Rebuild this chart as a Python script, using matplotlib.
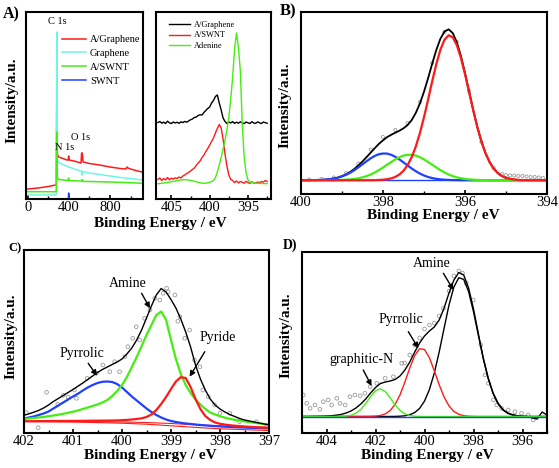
import numpy as np
import matplotlib
matplotlib.use('Agg')
import matplotlib.pyplot as plt
from matplotlib.ticker import MultipleLocator

plt.rcParams['font.family'] = ['Liberation Serif', 'DejaVu Serif']

# ---- A) survey spectra ----
A_red_x = [0, 100, 200, 270, 278, 282, 288, 300, 330, 380, 392, 398, 404, 450, 518, 524, 530, 538,
           600, 700, 800, 900, 955, 965, 975, 1000, 1050, 1110]
A_red_y = [10, 11, 12.5, 14, 14.5, 94, 45, 42, 41, 39, 39, 43, 39, 38, 36, 46, 46, 37,
           35.5, 34, 32, 30.5, 30, 32, 31, 30, 28.5, 27]
A_cyan_x = [0, 200, 270, 278, 282, 288, 300, 330, 400, 500, 522, 528, 534, 600, 700, 800, 900, 1000, 1110]
A_cyan_y = [4, 4, 4, 4.5, 167, 40, 37, 35, 32, 28.5, 28, 24, 27.5, 26, 24.5, 23, 21.5, 20.5, 19]
A_green_x = [0, 270, 278, 282, 288, 300, 350, 392, 398, 404, 500, 524, 530, 538, 600, 800, 1000, 1110]
A_green_y = [7.3, 7.3, 7.5, 67, 22, 19.5, 19, 18.5, 21, 18.5, 18, 18, 19.5, 17.5, 17.5, 17, 16.3, 15.7]
A_blue_x = [0, 392, 398, 404, 1110]
A_blue_y = [-5, -5, 6, -5, -5]

# ---- A) N 1s region ----
A2_energy = np.arange(406.75, 392.45, -0.25)
A2_graphene = [76.5, 77.5, 75.8, 76.9, 75.5, 77.8, 76.2, 75.4, 77.0, 76.0,
               76.8, 75.6, 77.2, 76.4, 77.6, 76.8, 78.0, 79.2, 80.0, 81.5,
               82.0, 83.5, 84.2, 84.0, 86.5, 88.5, 90.5, 92.0, 96.0, 98.5,
               102.5, 104.0, 96.0, 89.0, 81.0, 77.5, 75.5, 77.0, 76.0, 77.4,
               75.6, 76.8, 75.8, 77.2, 76.0, 75.4, 77.0, 76.2, 75.5, 77.3,
               76.0, 75.7, 77.1, 76.2, 75.4, 77.0, 76.3, 75.8]
A2_swnt = [19.5, 21.0, 18.5, 20.5, 19.0, 21.5, 19.2, 20.8, 19.8, 21.2,
           20.5, 22.0, 21.0, 23.0, 24.0, 25.5, 26.5, 28.0, 29.5, 31.0,
           33.5, 36.0, 38.0, 41.5, 44.0, 47.5, 50.5, 54.0, 57.5, 61.0,
           66.0, 70.5, 74.5, 71.0, 60.0, 45.0, 33.0, 24.0, 19.5, 18.5,
           16.5, 18.0, 16.0, 17.5, 16.8, 15.8, 17.6, 16.4, 15.6, 17.2,
           16.0, 15.8, 17.0, 16.2, 17.5, 16.8, 18.5, 17.5]
A2_adenine = [15.2, 15.5, 15.8, 16.0, 16.3, 16.6, 16.9, 17.2, 17.6, 18.0,
              18.4, 18.8, 19.0, 19.2, 19.3, 19.2, 19.0, 18.6, 18.2, 17.7,
              17.2, 16.7, 16.3, 15.9, 15.7, 15.8, 16.2, 16.8, 17.5, 18.5,
              21.5, 27.0, 34.0, 41.5, 50.0, 59.0, 69.0, 82.0, 100.0, 122.0,
              150.0, 166.0, 152.0, 128.0, 75.0, 42.0, 26.0, 19.0, 17.0, 16.4,
              16.0, 15.8, 15.7, 15.6, 15.5, 15.5, 15.4, 15.4]

# ---- B) fitted N 1s ----
B_energy = np.round(np.arange(400.0, 393.95, -0.1), 1)
B_BASE = 13.8
B_blue = [0, 0.05, 0.08, 0.12, 0.2, 0.35, 0.61, 1.0, 1.6, 2.5, 3.8, 5.4, 7.5, 10.0, 12.9, 15.9,
          19.0, 21.9, 24.3, 26.0, 26.7, 26.6, 25.4, 23.4, 20.8, 17.8, 14.7, 11.7, 9.0, 6.6, 4.7,
          3.2, 2.1, 1.4, 0.84, 0.49, 0.28, 0.15, 0.08] + [0] * 22
B_green = [0] * 7 + [0.03, 0.09, 0.16, 0.28, 0.48, 0.78, 1.27, 1.93, 2.86, 4.1, 5.7, 7.7, 10.1,
                     12.7, 15.5, 18.2, 20.8, 23.0, 24.6, 25.4, 25.4, 24.6, 23.0, 20.8, 18.2, 15.5,
                     12.7, 10.1, 7.7, 5.7, 4.1, 2.86, 1.93, 1.27, 0.78, 0.48, 0.28, 0.16, 0.09,
                     0.05] + [0] * 14
B_red = [0] * 18 + [0.05, 0.24, 0.5, 1.0, 1.8, 3.3, 5.7, 9.5, 15.1, 23.0, 33.7, 47.1, 63.0, 80.6,
                    98.9, 116.1, 130.5, 140.5, 144.9, 143.0, 135.1, 122.4, 106.0, 88.0, 69.9, 53.1,
                    38.7, 27.0, 18.1, 11.6, 7.1, 4.1, 2.3, 1.3, 0.65, 0.3, 0.14, 0.06] + [0] * 5
B_data_x = [399.8, 399.5, 399.2, 398.9, 398.6, 398.3, 398.0, 397.7, 397.4, 397.1, 396.8, 396.5,
            396.2, 395.9, 395.6, 395.3, 395.1, 395.0, 394.9, 394.8, 394.7, 394.6, 394.5, 394.4,
            394.3, 394.2, 394.1]
B_data_y = [14.5, 15, 16.5, 21, 30.5, 44.5, 57, 64, 71, 92, 131, 162, 152, 103, 52, 26, 20, 19,
            18.5, 18.5, 18, 18, 17.5, 17, 17, 16.5, 16]

# ---- C) ----
C_energy = np.round(np.arange(402.0, 396.95, -0.1), 1)
C_pyrrolic = [14.5, 15.5, 16.5, 18, 19.5, 21.5, 24.5, 27.5, 30.5, 33.5, 36.5,
              39.2, 42.5, 45.5, 48, 50, 51.2, 51.5, 51, 49, 45.5,
              41, 36.5, 32.5, 28.5, 24.5, 21, 18, 15.5, 13.5, 12,
              11, 10.2, 9.5, 9, 8.5, 8, 7.6, 7.2, 6.9, 6.6,
              6.3, 6.0, 5.8, 5.6, 5.4, 5.2, 5.0, 4.9, 4.8, 4.7]
C_amine = [14, 14.5, 15, 15.5, 16, 16.8, 17.5, 18.3, 19.2, 20.2, 21.3,
           22.5, 24, 25.5, 27, 28.5, 30.5, 33, 37, 42, 48,
           56, 66, 76, 87, 98, 108, 118, 121.5, 113, 93,
           74, 59, 48, 40, 33.5, 28.5, 24, 20.5, 18.5, 16.8,
           15.3, 14.2, 13.2, 12.4, 11.6, 10.9, 10.2, 9.6, 9, 8.5]
C_pyride = [11.8, 11.8, 11.8, 11.9, 11.9, 11.9, 12.0, 12.0, 12.0, 12.1, 12.1,
            12.1, 12.2, 12.2, 12.3, 12.3, 12.4, 12.4, 12.5, 12.6, 12.8,
            13.1, 13.5, 14, 14.7, 16, 18.5, 23, 29, 36, 44,
            51.5, 55.8, 55, 46, 34, 24, 17, 13, 10.5, 9.2,
            8.4, 7.8, 7.3, 6.9, 6.5, 6.2, 5.9, 5.6, 5.3, 5.0]
C_envelope = [17.7, 19.2, 20.8, 22.6, 25, 28, 31.5, 34.5, 37.5, 40.5, 43.5,
              46.8, 50, 53.5, 57, 60.5, 63.5, 66, 68.5, 71, 74,
              79, 85, 93, 103, 115, 127, 138, 144.5, 141, 133.5,
              125, 114, 101, 86, 68, 54, 43, 34, 28, 24,
              21, 18.5, 16.5, 14.5, 13, 12, 11, 10, 9, 8.2]
C_bg_x = [402, 401, 400, 399.5, 399, 398.5, 398, 397]
C_bg1 = [11.5, 11.3, 11.0, 10.5, 9.5, 8.2, 7.2, 5.7]
C_bg2 = [11.5, 11.0, 9.8, 8.8, 7.2, 5.6, 4.2, 2.5]
C_data_x = [401.95, 401.71, 401.54, 401.31, 401.2, 401.1, 400.97, 400.93, 400.71, 400.52,
            400.39, 400.25, 400.15, 400.05, 399.94, 399.88, 399.78, 399.71, 399.64, 399.54,
            399.43, 399.33, 399.23, 399.16, 399.09, 399.06, 398.92, 398.86, 398.82, 398.72,
            398.62, 398.52, 398.41, 398.35, 398.24, 398.11, 398.0, 397.8, 397.6, 397.26, 397.05]
C_data_y = [20.3, 5.3, 40.7, 28.7, 37.7, 36, 43, 34.7, 54.7, 59.7,
            68, 61.3, 71.3, 61.3, 76.3, 86.3, 94.7, 106.3, 93, 114.7,
            123, 134.7, 133, 139.7, 144.7, 141.3, 138, 111.7, 116.3, 94.7,
            103, 73, 66.3, 43, 36.3, 28, 19.7, 19.7, 11.3, 11.3, 6.3]

# ---- D) ----
D_energy = np.round(np.arange(405.0, 394.95, -0.2), 1)
D_BASE = 16.5
D_graphitic = [0] * 8 + [0.1, 0.37, 1.2, 3.2, 7.0, 13.0, 19.9, 25.8, 27.7, 24.8, 18.6, 11.6, 6.1,
                         2.6, 0.94, 0.29, 0.07] + [0] * 26
D_pyrrolic = [0] * 14 + [0.1, 0.36, 1.0, 2.6, 6.0, 12.1, 21.6, 34.5, 48.6, 61.0, 67.8, 67.0, 58.8,
                         45.7, 31.7, 19.5, 10.6, 5.1, 2.2, 0.84, 0.29, 0.09] + [0] * 15
D_amine = [0] * 19 + [0.1, 0.3, 0.7, 1.8, 3.9, 8.1, 15.4, 26.9, 43.4, 64.6, 88.3, 111.5, 129.5,
                      138.8, 137.1, 124.9, 104.8, 81.1, 57.6, 37.9, 22.9, 12.7, 6.6, 3.1, 1.4,
                      0.55, 0.2, 0.07] + [0] * 4
D_envelope = [16.5, 16.5, 16.6, 16.7, 16.8, 17.0, 17.3, 17.8, 18.6, 20.0,
              22.0, 25.0, 29.0, 34.0, 40.0, 45.5, 49.5, 51.0, 52.0, 53.5,
              57.0, 63.0, 71.0, 81.0, 90.0, 97.0, 102.0, 106.0, 113.0, 125.0,
              140.0, 153.0, 160.5, 158.0, 145.0, 124.0, 99.0, 75.0, 55.0, 40.0,
              30.0, 23.5, 20.0, 18.3, 17.3, 16.8, 16.5, 15.0, 14.0, 21.0, 18.0]
D_data_x = [404.95, 404.81, 404.67, 404.47, 404.27, 404.13, 403.93, 403.79, 403.58, 403.45,
            403.24, 403.04, 402.84, 402.63, 402.43, 402.22, 401.95, 401.61, 401.27, 400.93,
            400.81, 400.6, 400.4, 400.2, 400.0, 399.8, 399.6, 399.4, 399.23, 399.0,
            398.8, 398.6, 398.45, 398.3, 398.01, 397.7, 397.53, 397.39, 397.19, 397.05,
            396.85, 396.58, 396.31, 396.04, 395.77, 395.56]
D_data_y = [38, 29.7, 24.7, 28, 23.7, 31.3, 33, 28, 34.7, 29.7,
            28, 36.3, 38, 37.3, 39.7, 46.3, 49.7, 54.7, 56.3, 69.7,
            70, 78, 88, 95, 104, 108, 110, 117, 124.7, 142,
            157, 162, 160, 150, 133, 88, 58, 49.7, 33, 28,
            24.7, 23, 21.3, 19.7, 18, 13]

RED = '#ff1a1a'
GREEN = '#44ee11'
BLUE = '#2040ff'
CYAN = '#70f5e0'
GRAY = '#9a9a9a'

W, H = 559, 468
fig = plt.figure(figsize=(W / 100, H / 100), dpi=100)


def px_axes(l, t, r, b):
    return fig.add_axes([l / W, 1 - b / H, (r - l) / W, (b - t) / H])


def frame(ax, major, minor):
    for s in ax.spines.values():
        s.set_linewidth(1.5)
    ax.set_yticks([])
    ax.xaxis.set_major_locator(MultipleLocator(major))
    ax.xaxis.set_minor_locator(MultipleLocator(minor))
    ax.tick_params(axis='x', which='major', direction='in', length=3, width=1.2,
                   labelsize=10.5, pad=1.5)
    ax.tick_params(axis='x', which='minor', direction='in', length=2, width=1)


def ftext(x, y, s, **kw):
    fig.text(x / W, 1 - y / H, s, ha='center', va='center', **kw)


def arrow(ax, tail, head):
    ax.annotate('', xy=head, xytext=tail,
                arrowprops=dict(arrowstyle='-|>', color='k', lw=1, mutation_scale=8,
                                shrinkA=0, shrinkB=0))


# A left
ax = px_axes(26, 12, 143, 199)
ax.plot(A_red_x, A_red_y, color=RED, lw=1.1, label='A/Graphene')
ax.plot(A_cyan_x, A_cyan_y, color=CYAN, lw=1.1, label='Graphene')
ax.plot(A_green_x, A_green_y, color=GREEN, lw=1.1, label='A/SWNT')
ax.plot(A_blue_x, A_blue_y, color=BLUE, lw=1.1, label='SWNT')
ax.set_xlim(-17, 1121)
ax.set_ylim(0, 187)
frame(ax, 400, 200)
ax.legend(loc='upper left', bbox_to_anchor=(0.27, 0.9), frameon=False, fontsize=7.5,
          handlelength=2.3, handletextpad=0.4, labelspacing=0.45, borderaxespad=0)
ax.text(290, 177, 'C 1s', ha='center', va='center', fontsize=7.5)
ax.text(358, 52, 'N 1s', ha='center', va='center', fontsize=7.5)
ax.text(518, 61, 'O 1s', ha='center', va='center', fontsize=7.5)

# A right
ax = px_axes(156, 12, 271, 199)
ax.plot(A2_energy, A2_graphene, color='k', lw=1.0, label='A/Graphene')
ax.plot(A2_energy, A2_swnt, color=RED, lw=1.0, label='A/SWNT')
ax.plot(A2_energy, A2_adenine, color=GREEN, lw=1.0, label='Adenine')
ax.set_xlim(407, 392)
ax.set_ylim(0, 187)
frame(ax, 5, 2.5)
ax.legend(loc='upper left', bbox_to_anchor=(0.08, 0.97), frameon=False, fontsize=6,
          handlelength=2.6, handletextpad=0.5, labelspacing=0.3, borderaxespad=0)

# B
ax = px_axes(301, 12, 547, 194)
B_env = B_BASE + np.array(B_blue) + np.array(B_green) + np.array(B_red)
ax.scatter(B_data_x, B_data_y, s=5, facecolors='none', edgecolors=GRAY, linewidths=0.6)
ax.plot(B_energy, B_env, color='k', lw=1.3)
ax.plot(B_energy[[0, -1]], [B_BASE, B_BASE], color=BLUE, lw=1.0)
ax.plot(B_energy, B_BASE + np.array(B_blue), color=BLUE, lw=1.6)
ax.plot(B_energy, B_BASE + np.array(B_green), color=GREEN, lw=1.6)
ax.plot(B_energy, B_BASE + np.array(B_red), color=RED, lw=1.6)
ax.set_xlim(400, 394)
ax.set_ylim(0, 182)
frame(ax, 2, 1)

# C
ax = px_axes(24, 250, 269, 433)
ax.scatter(C_data_x, C_data_y, s=7, facecolors='none', edgecolors=GRAY, linewidths=0.6)
ax.plot(C_bg_x, C_bg1, color=RED, lw=0.8)
ax.plot(C_bg_x, C_bg2, color=RED, lw=0.8)
ax.plot(C_energy, C_pyrrolic, color=BLUE, lw=1.6)
ax.plot(C_energy, C_amine, color=GREEN, lw=1.6)
ax.plot(C_energy, C_pyride, color=RED, lw=1.6)
ax.plot(C_energy, C_envelope, color='k', lw=1.0)
ax.set_xlim(402, 397)
ax.set_ylim(0, 183)
frame(ax, 1, 0.5)
ax.text(399.88, 149.7, 'Amine', ha='center', va='center', fontsize=10)
arrow(ax, (399.6, 139.7), (399.43, 124.7))
ax.text(400.81, 79.7, 'Pyrrolic', ha='center', va='center', fontsize=10)
arrow(ax, (400.69, 69.7), (400.51, 57.3))
ax.text(398.04, 95.7, 'Pyride', ha='center', va='center', fontsize=10)
arrow(ax, (398.31, 81.3), (398.62, 56.3))

# D
ax = px_axes(302, 252, 547, 433)
ax.scatter(D_data_x, D_data_y, s=7, facecolors='none', edgecolors=GRAY, linewidths=0.6)
ax.plot(D_energy, D_envelope, color='k', lw=1.0)
ax.plot(D_energy, D_BASE + np.array(D_amine), color='k', lw=1.0)
ax.plot(D_energy, D_BASE + np.array(D_pyrrolic), color=RED, lw=1.0)
ax.plot(D_energy, D_BASE + np.array(D_graphitic), color=GREEN, lw=1.0)
ax.plot(D_energy[[0, -1]], [D_BASE, D_BASE], color=BLUE, lw=1.0)
ax.set_xlim(405, 395)
ax.set_ylim(0, 181)
frame(ax, 2, 1)
ax.text(399.69, 169.7, 'Amine', ha='center', va='center', fontsize=10)
arrow(ax, (399.23, 159.7), (398.82, 143))
ax.text(400.98, 113, 'Pyrrolic', ha='center', va='center', fontsize=10)
arrow(ax, (400.66, 101.3), (400.25, 84.7))
ax.text(402.59, 73, 'graphitic-N', ha='center', va='center', fontsize=10)
arrow(ax, (402.5, 63), (402.16, 47))

# axis titles and panel labels
bold = dict(fontweight='bold', fontsize=11)
ftext(160, 223, 'Binding Energy / eV', **bold)
ftext(433, 216, 'Binding Energy / eV', **bold)
ftext(150, 455, 'Binding Energy / eV', **bold)
ftext(427, 455, 'Binding Energy / eV', **bold)
ftext(12, 100, 'Intensity/a.u.', rotation=90, **bold)
ftext(285, 105, 'Intensity/a.u.', rotation=90, **bold)
ftext(11, 336, 'Intensity/a.u.', rotation=90, **bold)
ftext(286, 335, 'Intensity/a.u.', rotation=90, **bold)
ftext(11, 14, 'A)', fontweight='bold', fontsize=11.5)
ftext(288, 11, 'B)', fontweight='bold', fontsize=12)
ftext(15, 248, 'C)', fontweight='bold', fontsize=9)
ftext(290, 245, 'D)', fontweight='bold', fontsize=10)

fig.savefig('out.png', dpi=100)
